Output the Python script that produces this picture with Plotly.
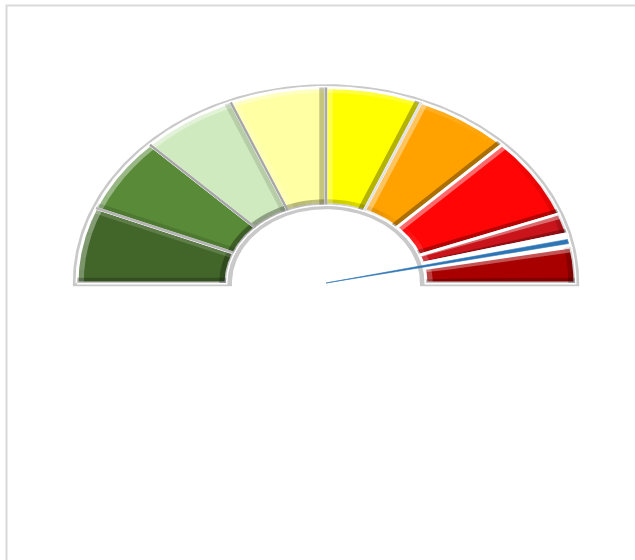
import numpy as np
import plotly.graph_objects as go

# ---- data -------------------------------------------------------------
# Gauge bands: angular size (degrees of the visible half, left -> right)
band_names = ["Band 1", "Band 2", "Band 3", "Band 4", "Band 5", "Band 6",
              "Band 7", "Band 8", "Needle gap", "Band 9"]
band_values = [22.5, 22.5, 22.5, 22.5, 22.5, 22.5, 24.3, 6.1, 4.0, 10.6]
band_colors = ["#426629", "#588a38", "#d0eabf", "#ffffa3", "#ffff00", "#ffa200",
               "#ff0505", "#c8141a", "#ffffff", "#a80000"]
band_bevel = [1, 1, 1, 1, 1, 1, 1, 1, 0, 1]
# colour of the separator at the start of each band (first = left bottom edge)
sep_colors = ["#ffffff", "#b4b4b4", "#a6a6a6", "#a6a6a6", "#a8a8a8", "#e2e2e2",
              "#ffffff", "#ffffff", "#ffffff", "#ffffff", "#ffffff"]

# Needle: position and width (degrees)
needle_value = 167.6
needle_width = 1.4
needle_color = "#2e75b6"

inner_ratio = 0.4016

# ---- geometry helpers ---------------------------------------------------
W, H = 635, 560
cx_px, cy_px = 326, 283
ax_px, by_px = 249.0, 195.5
LIGHT = np.array([-1.0, 1.0]) / np.sqrt(2)
BEV_PX = 6.0
K_HI, K_LO = 0.40, 0.32


def pt(phi_deg, r):
    p = np.radians(phi_deg)
    return -np.cos(p) * r, np.sin(p) * r


def arc(a0, a1, r, n=80):
    ph = np.linspace(a0, a1, n)
    return pt(ph, r)


def shade(d):
    if d >= 0:
        return "rgba(255,255,255,%.3f)" % (K_HI * d)
    return "rgba(0,0,0,%.3f)" % (K_LO * -d)


def poly(fig, xs, ys, color):
    fig.add_trace(go.Scatter(x=np.append(xs, xs[0]), y=np.append(ys, ys[0]),
                             mode="lines", fill="toself", fillcolor=color,
                             line=dict(width=0), hoverinfo="skip", showlegend=False))


fig = go.Figure()

# shadow under the whole gauge
ro, ri, dy = 1.017, inner_ratio * 0.94, -0.016
sx_o, sy_o = arc(0, 180, ro, 200)
sx_i, sy_i = arc(180, 0, ri, 120)
sh_x = np.concatenate([[-ro], sx_o, [ro, ri], sx_i, [-ri, -ro]])
sh_y = np.concatenate([[dy], sy_o, [dy, dy], sy_i, [dy, dy]])
fig.add_trace(go.Scatter(x=sh_x, y=sh_y, mode="lines", fill="toself",
                         fillcolor="#c9c9c9", line=dict(width=0),
                         hoverinfo="skip", showlegend=False))

# bands
edges = np.concatenate([[0], np.cumsum(band_values)])
dr = BEV_PX / 222.0
for i, (name, col) in enumerate(zip(band_names, band_colors)):
    a0, a1 = edges[i], edges[i + 1]
    xo, yo = arc(a0, a1, 1.0)
    xi, yi = arc(a1, a0, inner_ratio)
    fig.add_trace(go.Scatter(
        x=np.concatenate([xo, xi, xo[:1]]), y=np.concatenate([yo, yi, yo[:1]]),
        mode="lines", fill="toself", fillcolor=col,
        line=dict(color="#ffffff", width=3), name=name,
        hoverinfo="name", showlegend=False))
    if not band_bevel[i]:
        continue
    # bevel: arc strips, shaded by facing of the light
    nseg = int(np.ceil((a1 - a0) / 4.0))
    segs = np.linspace(a0, a1, nseg + 1)
    for s0, s1 in zip(segs[:-1], segs[1:]):
        m = np.radians((s0 + s1) / 2)
        n_out = np.array([-np.cos(m), np.sin(m)])
        d_out = float(n_out @ LIGHT)
        x1, y1 = arc(s0, s1, 1.0, 8)
        x2, y2 = arc(s1, s0, 1.0 - dr, 8)
        poly(fig, np.concatenate([x1, x2]), np.concatenate([y1, y2]), shade(d_out))
        x1, y1 = arc(s0, s1, inner_ratio, 8)
        x2, y2 = arc(s1, s0, inner_ratio + dr, 8)
        poly(fig, np.concatenate([x1, x2]), np.concatenate([y1, y2]), shade(-d_out))
    # bevel: radial side strips
    rs = np.linspace(inner_ratio, 1.0, 12)
    span = a1 - a0
    for edge_ang, sign in ((a0, 1), (a1, -1)):
        e = np.radians(edge_ang)
        tang = np.array([np.sin(e), np.cos(e)])  # direction of increasing angle
        d = float((-sign * tang) @ LIGHT)
        delta = np.minimum(np.degrees(BEV_PX / (rs * 222.0)), span / 4.0)
        xa, ya = pt(np.full_like(rs, edge_ang), rs)
        xb, yb = pt(edge_ang + sign * delta[::-1], rs[::-1])
        poly(fig, np.concatenate([xa, xb]), np.concatenate([ya, yb]), shade(d))

# separators
for i, ang in enumerate(edges):
    x0, y0 = pt(ang, inner_ratio)
    x1, y1 = pt(ang, 1.0)
    if sep_colors[i] != "#ffffff":
        fig.add_trace(go.Scatter(x=[x0, x1], y=[y0, y1], mode="lines",
                                 line=dict(color=sep_colors[i], width=2.4),
                                 hoverinfo="skip", showlegend=False))

# needle
nx_o, ny_o = arc(needle_value - needle_width / 2, needle_value + needle_width / 2, 0.995, 10)
fig.add_trace(go.Scatter(
    x=np.concatenate([[0], nx_o, [0]]), y=np.concatenate([[0], ny_o, [0]]),
    mode="lines", fill="toself", fillcolor=needle_color,
    line=dict(color=needle_color, width=0.6), name="Needle",
    hoverinfo="name", showlegend=False))

fig.update_layout(
    width=W, height=H,
    margin=dict(l=0, r=0, t=0, b=0),
    paper_bgcolor="white", plot_bgcolor="white",
    xaxis=dict(range=[-cx_px / ax_px, (W - cx_px) / ax_px], visible=False, fixedrange=True),
    yaxis=dict(range=[-(H - cy_px) / by_px, cy_px / by_px], visible=False, fixedrange=True),
    shapes=[dict(type="rect", xref="paper", yref="paper",
                 x0=6.5 / W, x1=1.2, y0=-0.2, y1=1 - 5.5 / H,
                 line=dict(color="#d9d9d9", width=2), fillcolor="rgba(0,0,0,0)")],
)

fig.write_html("out.html", config={"displayModeBar": False},
               post_script="document.body.style.margin='0';")
